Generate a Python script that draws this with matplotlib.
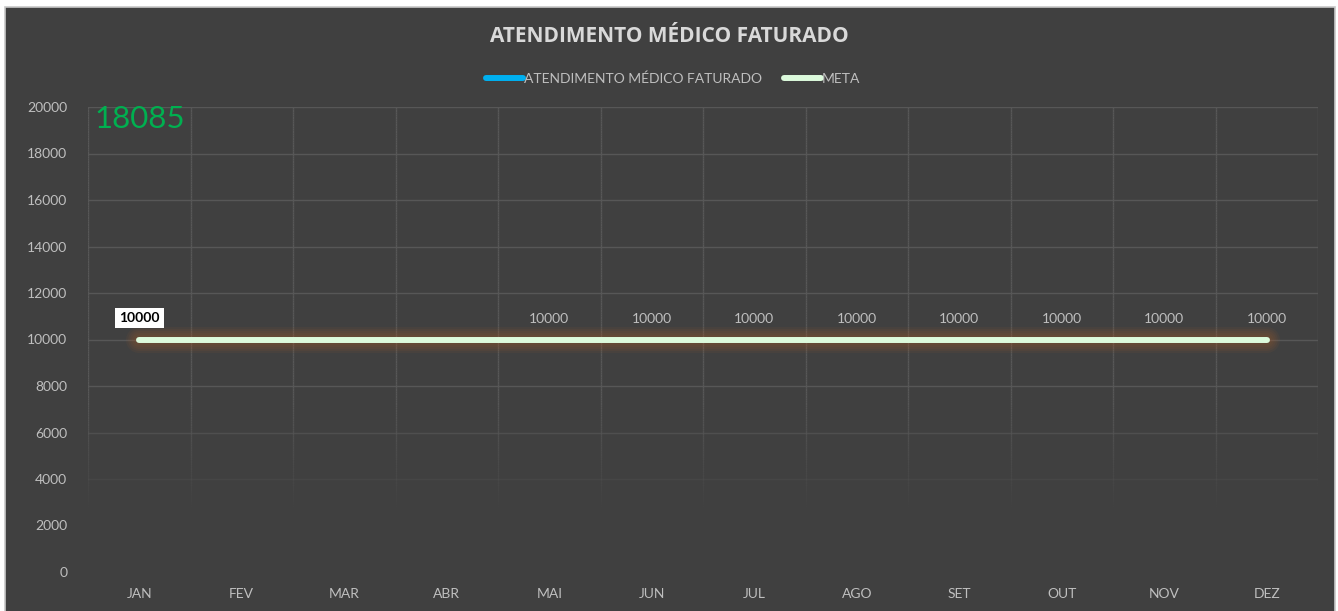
import matplotlib.pyplot as plt
import numpy as np
from matplotlib.collections import LineCollection
from matplotlib.patches import Rectangle

plt.rcParams['font.family'] = ['Lato', 'DejaVu Sans']

# dados
meses = ['JAN', 'FEV', 'MAR', 'ABR', 'MAI', 'JUN', 'JUL', 'AGO', 'SET', 'OUT', 'NOV', 'DEZ']
atendimento = [np.nan] * 12
meta = [10000] * 12
rotulos_meta = [True, False, False, False, True, True, True, True, True, True, True, True]
total = 18085
yticks = [0, 2000, 4000, 6000, 8000, 10000, 12000, 14000, 16000, 18000, 20000]

bg = '#404040'
grid_c = '#575757'
txt_c = '#bfbfbf'

fig = plt.figure(figsize=(13.38, 6.11), dpi=100, facecolor='white')
fig.patches.append(Rectangle((4.5 / 1338, -0.01), 1330 / 1338, (611 - 6.5) / 611 + 0.01,
                             transform=fig.transFigure, facecolor=bg, edgecolor='#c8c8c8',
                             linewidth=1.2, zorder=-5))

ax = fig.add_axes([88 / 1338, 1 - 572 / 611, (1318 - 88) / 1338, (572 - 107) / 611])
ax.set_facecolor('none')
x = np.arange(len(meses))
ax.set_xlim(-0.5, 11.5)
ax.set_ylim(0, 20000)


def fade(v):
    return float(np.clip((v - 2600) / (7600 - 2600), 0, 1))


# grade horizontal com esmaecimento
for v in yticks:
    a = fade(v)
    if a > 0:
        ax.plot([-0.5, 11.5], [v, v], color=grid_c, lw=1.0, alpha=a, zorder=1)

# grade vertical com esmaecimento
ys = np.linspace(0, 20000, 201)
for gx in np.arange(-0.5, 12, 1.0):
    segs = [[(gx, ys[i]), (gx, ys[i + 1])] for i in range(len(ys) - 1)]
    alphas = [fade((ys[i] + ys[i + 1]) / 2) for i in range(len(ys) - 1)]
    cols = [(0x57 / 255, 0x57 / 255, 0x57 / 255, a) for a in alphas]
    ax.add_collection(LineCollection(segs, colors=cols, linewidths=1.0, zorder=1))

# brilho laranja em volta da meta (px -> pt)
for lw_px in [26, 22, 18, 14, 10]:
    ax.plot(x, meta, color='#b0602a', lw=lw_px * 0.72, alpha=0.08, solid_capstyle='round',
            zorder=2)

ax.plot(x, atendimento, color='#00b0f0', lw=4.3, solid_capstyle='round', zorder=3,
        label='ATENDIMENTO MÉDICO FATURADO')
ax.plot(x, meta, color='#dcfadc', lw=4.3, solid_capstyle='round', zorder=3, label='META')

for i, (v, show) in enumerate(zip(meta, rotulos_meta)):
    if not show:
        continue
    if i == 0:
        ax.annotate(str(v), (i, v), xytext=(0, 11), textcoords='offset points', ha='center',
                    va='bottom', fontsize=10, fontweight='bold', color='black',
                    bbox=dict(boxstyle='square,pad=0.3', facecolor='white', edgecolor='none'),
                    zorder=5)
    else:
        ax.annotate(str(v), (i, v), xytext=(0, 10.2), textcoords='offset points', ha='center',
                    va='bottom', fontsize=10, color=txt_c, zorder=5)

ax.text(-0.44, 19500, str(total), color='#00b050', fontsize=22.5, ha='left', va='center', zorder=5)

ax.set_xticks(x)
ax.set_xticklabels(meses)
ax.set_yticks(yticks)
ax.tick_params(axis='both', length=0, colors=txt_c, labelsize=10)
ax.tick_params(axis='x', pad=11.5)
ax.tick_params(axis='y', pad=15)
for s in ax.spines.values():
    s.set_visible(False)

fig.text(0.5005, 1 - 36 / 611, 'ATENDIMENTO MÉDICO FATURADO', ha='center', va='center',
         fontsize=15, fontweight='bold', color='#d9d9d9', family=['Open Sans', 'DejaVu Sans'])

leg = ax.legend(loc='center', bbox_to_anchor=(673 / 1338, 1 - 78.5 / 611),
                bbox_transform=fig.transFigure, ncol=2, frameon=False, fontsize=10,
                handlelength=2.7, handletextpad=0.05, columnspacing=1.6, labelcolor=txt_c)

fig.savefig('out.png', dpi=100, facecolor=fig.get_facecolor())
